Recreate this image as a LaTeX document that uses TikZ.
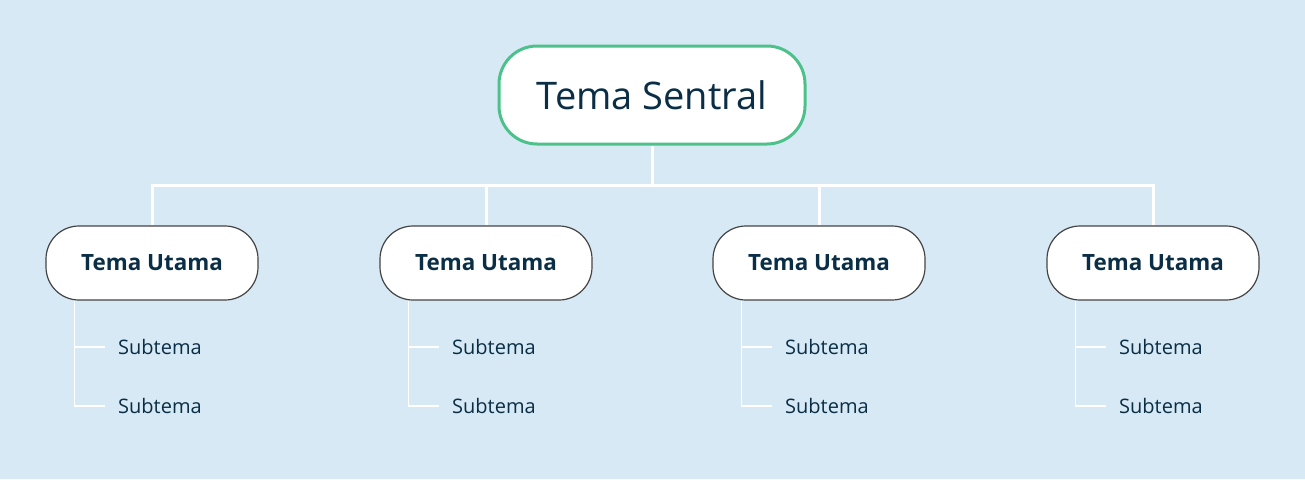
\documentclass[tikz,border=0pt]{standalone}
\usepackage{fontspec}
\setmainfont{Open Sans}
\definecolor{bg}{HTML}{D7E9F5}
\definecolor{ink}{HTML}{0A2E45}
\definecolor{grn}{HTML}{4CC28A}
\definecolor{edge}{HTML}{444444}
\begin{document}
\begin{tikzpicture}[x=1pt,y=-1pt,
  central/.style={draw=grn,line width=3pt,fill=white,rounded corners=38pt,minimum width=306pt,minimum height=98pt,text=ink,font=\fontsize{38}{40}\selectfont,inner sep=0pt},
  maintopic/.style={draw=edge,line width=1.2pt,fill=white,rounded corners=33pt,minimum width=212pt,minimum height=74pt,text=ink,font=\fontsize{22.4}{26}\selectfont\bfseries,inner sep=0pt},
  subtopic/.style={anchor=west,inner sep=0pt,text=ink,font=\fontsize{20}{22}\selectfont},
  trunk/.style={draw=white,line width=3pt},
  twig/.style={draw=white,line width=1.8pt}]
\fill[bg] (0,0) rectangle (1305,479);
\useasboundingbox (0,0) rectangle (1305,479);
\node[central] (c) at (652,95) {\raisebox{-2pt}{Tema Sentral}};
\coordinate (bus) at (652,185);
\foreach \i/\x in {1/152,2/486,3/819,4/1153}{
  \node[maintopic] (m\i) at (\x,263) {\raisebox{-1.5pt}{Tema Utama}};
  \node[subtopic] (s\i a) at (\x-34,347) {Subtema};
  \node[subtopic] (s\i b) at (\x-34,406) {Subtema};
}
\draw[trunk] (c.south) -- (bus);
\foreach \i in {1,2,3,4}{
  \draw[trunk] (bus) -| (m\i.north);
  \draw[twig] ([xshift=29pt]m\i.south west) |- ([xshift=-13pt]s\i b.west);
  \draw[twig] ([xshift=29pt]m\i.south west |- s\i a.west) -- ([xshift=-13pt]s\i a.west);
}
\end{tikzpicture}
\end{document}
